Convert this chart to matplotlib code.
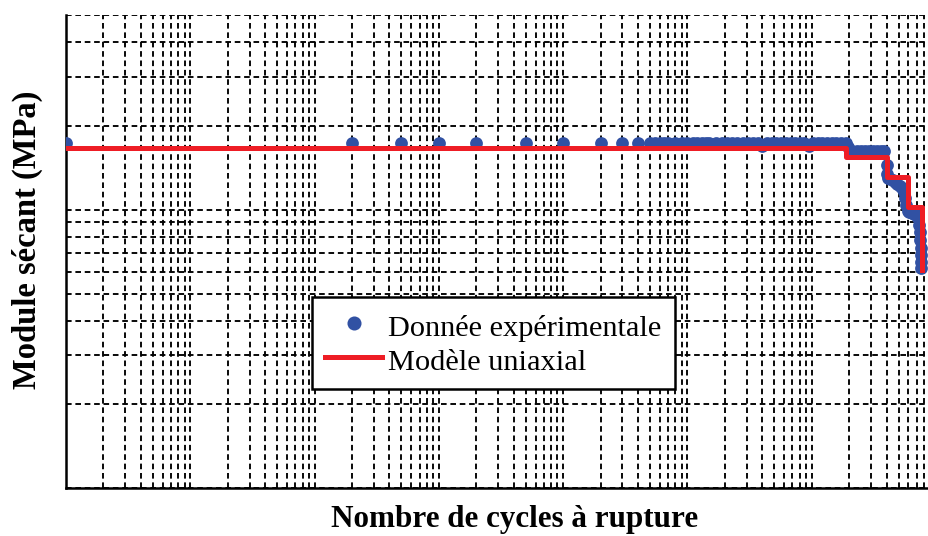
import matplotlib
matplotlib.use("Agg")
import matplotlib.pyplot as plt
from matplotlib.ticker import LogLocator, NullFormatter

# ---- data ----
exp_cycles = [1, 200, 500, 1000, 2000, 5000, 10000, 20000, 30000, 40000,
              50000, 55000, 60000, 65000, 70000, 80000, 90000, 100000, 110000, 120000,
              130000, 140000, 150000, 170000, 190000, 210000, 230000, 250000, 280000, 310000,
              340000, 370000, 400000, 440000, 480000, 520000, 570000, 620000, 680000, 740000,
              800000, 870000, 950000, 1030000, 1120000, 1220000, 1330000, 1450000, 1580000, 1720000,
              1870000, 1950000,
              2100000, 2300000, 2500000, 2700000, 2900000, 3100000, 3350000, 3600000, 3850000,
              4000000, 4050000,
              4100000, 4300000, 4500000, 4700000, 4900000, 5100000, 5300000, 5500000,
              5650000, 5750000,
              5900000, 6100000, 6400000, 6700000, 7000000, 7200000,
              7350000, 7450000, 7500000, 7550000, 7580000, 7600000, 7620000]
exp_modulus = [17360, 17360, 17360, 17360, 17360, 17360, 17360, 17360, 17360, 17360,
               17300, 17360, 17300, 17360, 17400, 17360, 17300, 17360, 17400, 17360,
               17300, 17360, 17400, 17360, 17300, 17360, 17400, 17360, 17300, 17360,
               17400, 17360, 16900, 17360, 17400, 17360, 17300, 17360, 17400, 17360,
               17300, 17360, 16900, 17360, 17400, 17360, 17300, 17360, 17400, 17360,
               17300, 16800,
               16240, 16240, 16300, 16240, 16200, 16240, 16240, 16300, 16240,
               14500, 13400,
               13000, 12900, 12800, 12600, 12400, 12200, 12000, 11600,
               11000, 10400,
               9900, 9800, 9700, 9650, 9550, 9300,
               8800, 8300, 7800, 7300, 6900, 6500, 6200]

model_cycles = [1, 1880000, 4000000, 5970000, 7660000]
model_modulus = [16610, 15430, 13130, 10250, 6080]

blue = "#3151A3"
red = "#EE1D25"

fig = plt.figure(figsize=(9.29, 5.36), dpi=100)
W, H = 929, 536
left_px, right_px, top_px, bottom_px = 66, 936, 15, 488.3
ax = fig.add_axes([left_px / W, 1 - bottom_px / H,
                   (right_px - left_px) / W, (bottom_px - top_px) / H])

ax.set_xscale("log")
ax.set_yscale("log")
ax.set_xlim(1, 1e7)
ax.set_ylim(1000, 50000)

ax.plot(exp_cycles, exp_modulus, linestyle="none", marker="o", markersize=9.2,
        color=blue, markeredgewidth=0, label="Donnée expérimentale", zorder=3)
ax.plot(model_cycles, model_modulus, drawstyle="steps-post", color=red, lw=3.6,
        label="Modèle uniaxial", zorder=4)

ax.xaxis.set_major_locator(LogLocator(base=10, numticks=20))
ax.xaxis.set_minor_locator(LogLocator(base=10, subs=range(2, 10), numticks=100))
ax.yaxis.set_major_locator(LogLocator(base=10, numticks=20))
ax.yaxis.set_minor_locator(LogLocator(base=10, subs=range(2, 10), numticks=100))
for axis in (ax.xaxis, ax.yaxis):
    axis.set_major_formatter(NullFormatter())
    axis.set_minor_formatter(NullFormatter())
ax.tick_params(which="both", length=0)
ax.grid(True, which="both", color="black", linestyle=(0, (3, 2.0)), linewidth=1.35, zorder=1)
ax.set_axisbelow(True)

for s in ("top", "right"):
    ax.spines[s].set_visible(False)
for s in ("left", "bottom"):
    ax.spines[s].set_linewidth(1.8)
    ax.spines[s].set_color("black")

leg = ax.legend(loc="upper left", bbox_to_anchor=(311.7 / W, 1 - 296.7 / H),
                bbox_transform=fig.transFigure, borderaxespad=0,
                prop={"family": "Liberation Serif", "size": 21.9},
                frameon=True, fancybox=False, edgecolor="black", framealpha=1,
                handlelength=1.85, handletextpad=0.22, borderpad=0.45,
                handleheight=1.15, labelspacing=0.08, numpoints=1, markerscale=1.1)
leg.get_frame().set_linewidth(1.8)

fig.text(515 / W, 1 - 527 / H, "Nombre de cycles à rupture", ha="center", va="baseline",
         family="Liberation Serif", weight="bold", fontsize=22.4)
fig.text(27 / W, 1 - 240 / H, "Module sécant (MPa)", ha="center", va="center",
         rotation=90, family="Liberation Serif", weight="bold", fontsize=23.5)

fig.savefig("out.png", dpi=100)
